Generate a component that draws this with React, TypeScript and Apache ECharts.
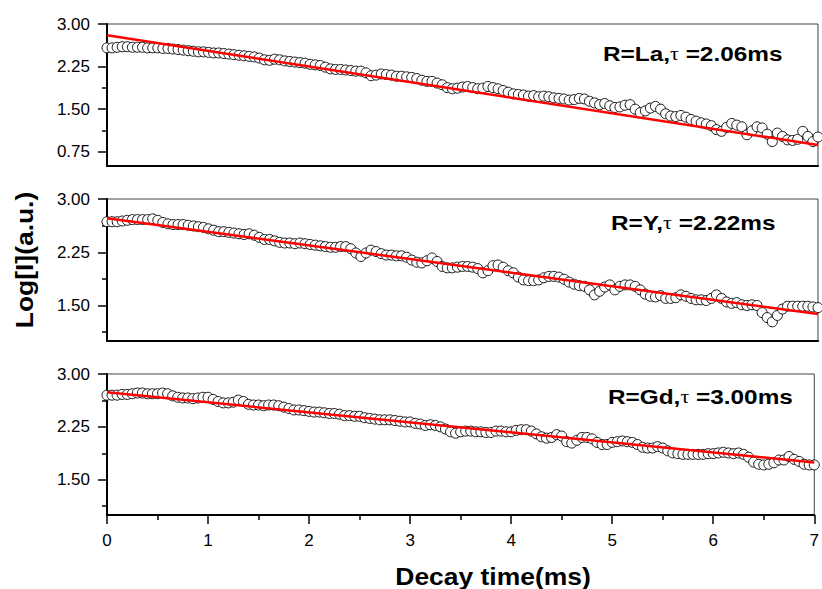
import React, { useEffect, useRef } from "react";
import * as echarts from "echarts";

const TIME_STEP = 0.05;
const X_TICKS = [0, 1, 2, 3, 4, 5, 6, 7];

// Log[I] for R = La (t = 0 .. 7 ms, step 0.05 ms)
const LA = [
  2.58, 2.58, 2.59, 2.60, 2.60, 2.59, 2.59, 2.59, 2.58, 2.58, 2.58,
  2.57, 2.57, 2.56, 2.55, 2.54, 2.53, 2.52, 2.51, 2.51, 2.50,
  2.49, 2.49, 2.48, 2.47, 2.46, 2.45, 2.44, 2.43, 2.42, 2.40,
  2.37, 2.36, 2.38, 2.37, 2.35, 2.34, 2.33, 2.32, 2.31, 2.29,
  2.28, 2.27, 2.24, 2.21, 2.20, 2.20, 2.19, 2.18, 2.17, 2.17,
  2.14, 2.09, 2.10, 2.12, 2.11, 2.10, 2.08, 2.08, 2.07, 2.06,
  2.04, 2.01, 1.99, 1.99, 1.96, 1.93, 1.88, 1.86, 1.87, 1.89,
  1.90, 1.88, 1.86, 1.87, 1.90, 1.88, 1.86, 1.83, 1.80, 1.77,
  1.76, 1.75, 1.73, 1.74, 1.72, 1.73, 1.72, 1.70, 1.69, 1.68,
  1.66, 1.67, 1.69, 1.68, 1.64, 1.61, 1.58, 1.60, 1.56, 1.53,
  1.54, 1.57, 1.58, 1.50, 1.44, 1.47, 1.52, 1.55, 1.50, 1.42,
  1.38, 1.37, 1.39, 1.36, 1.32, 1.29, 1.26, 1.24, 1.21, 1.14,
  1.11, 1.18, 1.25, 1.22, 1.19, 1.05, 1.12, 1.19, 1.17, 1.06,
  0.93, 1.08, 1.02, 0.96, 0.95, 0.97, 1.11, 1.02, 0.93, 1.01,
];

// Log[I] for R = Y
const YT = [
  2.68, 2.68, 2.68, 2.69, 2.70, 2.71, 2.71, 2.71, 2.71, 2.72, 2.70,
  2.67, 2.65, 2.64, 2.64, 2.64, 2.63, 2.62, 2.61, 2.60, 2.58,
  2.56, 2.54, 2.54, 2.53, 2.52, 2.51, 2.50, 2.51, 2.49, 2.46,
  2.43, 2.43, 2.41, 2.39, 2.38, 2.38, 2.37, 2.38, 2.37, 2.36,
  2.35, 2.34, 2.33, 2.32, 2.32, 2.33, 2.33, 2.30, 2.24, 2.19,
  2.24, 2.28, 2.26, 2.23, 2.21, 2.21, 2.20, 2.20, 2.18, 2.14,
  2.11, 2.10, 2.13, 2.17, 2.12, 2.05, 2.03, 2.03, 2.04, 2.05,
  2.05, 2.04, 2.02, 1.96, 1.99, 2.06, 2.07, 2.04, 1.99, 1.96,
  1.90, 1.86, 1.85, 1.85, 1.86, 1.89, 1.91, 1.91, 1.90, 1.87,
  1.83, 1.80, 1.78, 1.77, 1.72, 1.65, 1.70, 1.76, 1.79, 1.72,
  1.77, 1.79, 1.79, 1.77, 1.72, 1.66, 1.63, 1.62, 1.64, 1.60,
  1.60, 1.61, 1.65, 1.63, 1.60, 1.58, 1.58, 1.57, 1.60, 1.65,
  1.60, 1.55, 1.53, 1.54, 1.51, 1.50, 1.51, 1.50, 1.40, 1.33,
  1.27, 1.36, 1.45, 1.49, 1.49, 1.49, 1.49, 1.49, 1.48, 1.47,
];

// Log[I] for R = Gd
const GD = [
  2.70, 2.70, 2.70, 2.71, 2.71, 2.72, 2.73, 2.73, 2.72, 2.72, 2.72,
  2.73, 2.72, 2.69, 2.67, 2.66, 2.66, 2.65, 2.66, 2.67, 2.67,
  2.64, 2.61, 2.59, 2.59, 2.60, 2.63, 2.61, 2.57, 2.56, 2.56,
  2.55, 2.56, 2.56, 2.55, 2.53, 2.51, 2.49, 2.49, 2.48, 2.47,
  2.46, 2.46, 2.45, 2.44, 2.44, 2.43, 2.41, 2.41, 2.40, 2.40,
  2.38, 2.37, 2.36, 2.35, 2.35, 2.35, 2.34, 2.33, 2.32, 2.32,
  2.30, 2.29, 2.27, 2.28, 2.27, 2.25, 2.22, 2.18, 2.16, 2.18,
  2.19, 2.19, 2.18, 2.18, 2.17, 2.17, 2.19, 2.19, 2.18, 2.18,
  2.20, 2.21, 2.21, 2.19, 2.15, 2.11, 2.09, 2.10, 2.14, 2.12,
  2.04, 2.02, 2.06, 2.10, 2.10, 2.08, 2.03, 2.00, 2.00, 2.03,
  2.04, 2.05, 2.04, 2.03, 2.00, 1.96, 1.95, 1.95, 1.97, 1.95,
  1.91, 1.88, 1.87, 1.86, 1.86, 1.86, 1.86, 1.86, 1.87, 1.87,
  1.88, 1.89, 1.88, 1.87, 1.88, 1.86, 1.82, 1.75, 1.72, 1.71,
  1.72, 1.74, 1.78, 1.78, 1.83, 1.79, 1.76, 1.72, 1.71, 1.71,
];

const FIT_LA = [[0, 2.80], [7, 0.87]];
const FIT_Y = [[0, 2.73], [7, 1.38]];
const FIT_GD = [[0, 2.74], [7, 1.745]];

const PANEL_DATA = [LA, YT, GD];
const PANEL_FITS = [FIT_LA, FIT_Y, FIT_GD];
const PANEL_NAMES = ["R=La,", "R=Y,", "R=Gd,"];
const PANEL_TAUS = [" =2.06ms", " =2.22ms", " =3.00ms"];

const Y_MIN = [0.5, 1.0, 1.0];
const Y_MAX = [3.0, 3.0, 3.0];
const Y_MAJOR = [
  [0.75, 1.5, 2.25, 3.0],
  [1.5, 2.25, 3.0],
  [1.5, 2.25, 3.0],
];
const Y_MINOR = [
  [1.125, 1.875, 2.625],
  [1.125, 1.875, 2.625],
  [1.125, 1.875, 2.625],
];

const X_TITLE = "Decay time(ms)";
const Y_TITLE = "Log[I](a.u.)";

const FONT = "'Liberation Sans', Arial, Helvetica, sans-serif";

const GRIDS = [
  { left: 107, top: 24, width: 711, height: 142 },
  { left: 107, top: 199, width: 711, height: 142 },
  { left: 107, top: 374, width: 711, height: 141 },
];
const LABEL_POS = [
  { x: 603, y: 54 },
  { x: 611, y: 223 },
  { x: 608, y: 397 },
];

export default function App() {
  const ref = useRef<HTMLDivElement | null>(null);

  useEffect(() => {
    if (!ref.current) return;
    const chart = echarts.init(ref.current, null, { renderer: "svg" });

    const grid = GRIDS.map((g) => ({
      ...g,
      show: true,
      borderColor: "#444",
      borderWidth: 1,
      backgroundColor: "transparent",
      containLabel: false,
    }));

    const xAxis = [0, 1, 2].map((i) => ({
      type: "value",
      gridIndex: i,
      min: 0,
      max: 7,
      interval: 1,
      axisLine: { show: true, onZero: false, lineStyle: { color: "#000", width: 2 } },
      axisTick: { show: i === 2, length: 9, lineStyle: { color: "#000", width: 1.5 } },
      minorTick: { show: i === 2, splitNumber: 2, length: 5, lineStyle: { color: "#000", width: 1.5 } },
      axisLabel: {
        show: i === 2,
        fontSize: 17,
        fontFamily: FONT,
        color: "#000",
        margin: 17,
        formatter: (v: number) => (X_TICKS.includes(v) ? String(v) : ""),
      },
      splitLine: { show: false },
      minorSplitLine: { show: false },
    }));

    const yAxis: any[] = [];
    [0, 1, 2].forEach((i) => {
      yAxis.push({
        type: "value",
        gridIndex: i,
        min: Y_MIN[i],
        max: Y_MAX[i],
        position: "left",
        axisLine: { show: true, onZero: false, lineStyle: { color: "#000", width: 2 } },
        axisTick: { show: true, length: 9, customValues: Y_MAJOR[i], lineStyle: { color: "#000", width: 1.5 } },
        axisLabel: {
          show: true,
          customValues: Y_MAJOR[i],
          fontSize: 17,
          fontFamily: FONT,
          color: "#000",
          margin: 17,
          formatter: (v: number) => v.toFixed(2),
        },
        splitLine: { show: false },
      });
      yAxis.push({
        type: "value",
        gridIndex: i,
        min: Y_MIN[i],
        max: Y_MAX[i],
        position: "left",
        axisLine: { show: false },
        axisTick: { show: true, length: 5, customValues: Y_MINOR[i], lineStyle: { color: "#000", width: 1.5 } },
        axisLabel: { show: false },
        splitLine: { show: false },
      });
    });

    const series: any[] = [];
    [0, 1, 2].forEach((i) => {
      series.push({
        type: "scatter",
        xAxisIndex: i,
        yAxisIndex: i * 2,
        symbol: "circle",
        symbolSize: 10,
        itemStyle: { color: "#fff", borderColor: "#000", borderWidth: 0.9, opacity: 1 },
        data: PANEL_DATA[i].map((v, k) => [Number((k * TIME_STEP).toFixed(2)), v]),
        z: 2,
      });
      series.push({
        type: "line",
        xAxisIndex: i,
        yAxisIndex: i * 2,
        showSymbol: false,
        symbol: "none",
        lineStyle: { color: "#ff0000", width: 2.5 },
        data: PANEL_FITS[i],
        z: 3,
      });
    });

    const graphic: any[] = [];
    [0, 1, 2].forEach((i) => {
      graphic.push({
        type: "text",
        x: LABEL_POS[i].x,
        y: LABEL_POS[i].y,
        scaleX: 1.16,
        z: 10,
        style: {
          text: `{b|${PANEL_NAMES[i]}}{t|τ}{b|${PANEL_TAUS[i]}}`,
          align: "left",
          verticalAlign: "middle",
          rich: {
            b: { fontFamily: FONT, fontWeight: "bold", fontSize: 21, fill: "#000", color: "#000" },
            t: { fontFamily: "'Liberation Serif', 'Times New Roman', serif", fontWeight: "normal", fontSize: 19, fill: "#000", color: "#000" },
          },
        },
      });
    });
    graphic.push({
      type: "text",
      x: 25,
      y: 260,
      rotation: Math.PI / 2,
      scaleX: 1.15,
      z: 10,
      style: {
        text: Y_TITLE,
        fontFamily: FONT,
        fontWeight: "bold",
        fontSize: 23,
        fill: "#000",
        align: "center",
        verticalAlign: "middle",
      },
    });
    graphic.push({
      type: "text",
      x: 493,
      y: 577,
      scaleX: 1.15,
      z: 10,
      style: {
        text: X_TITLE,
        fontFamily: FONT,
        fontWeight: "bold",
        fontSize: 23,
        fill: "#000",
        align: "center",
        verticalAlign: "middle",
      },
    });

    chart.setOption({
      animation: false,
      backgroundColor: "#fff",
      grid,
      xAxis,
      yAxis,
      series,
      graphic,
    } as any);

    return () => chart.dispose();
  }, []);

  return (
    <div
      ref={ref}
      style={{ position: "absolute", left: 0, top: 0, width: 822, height: 589 }}
    />
  );
}
